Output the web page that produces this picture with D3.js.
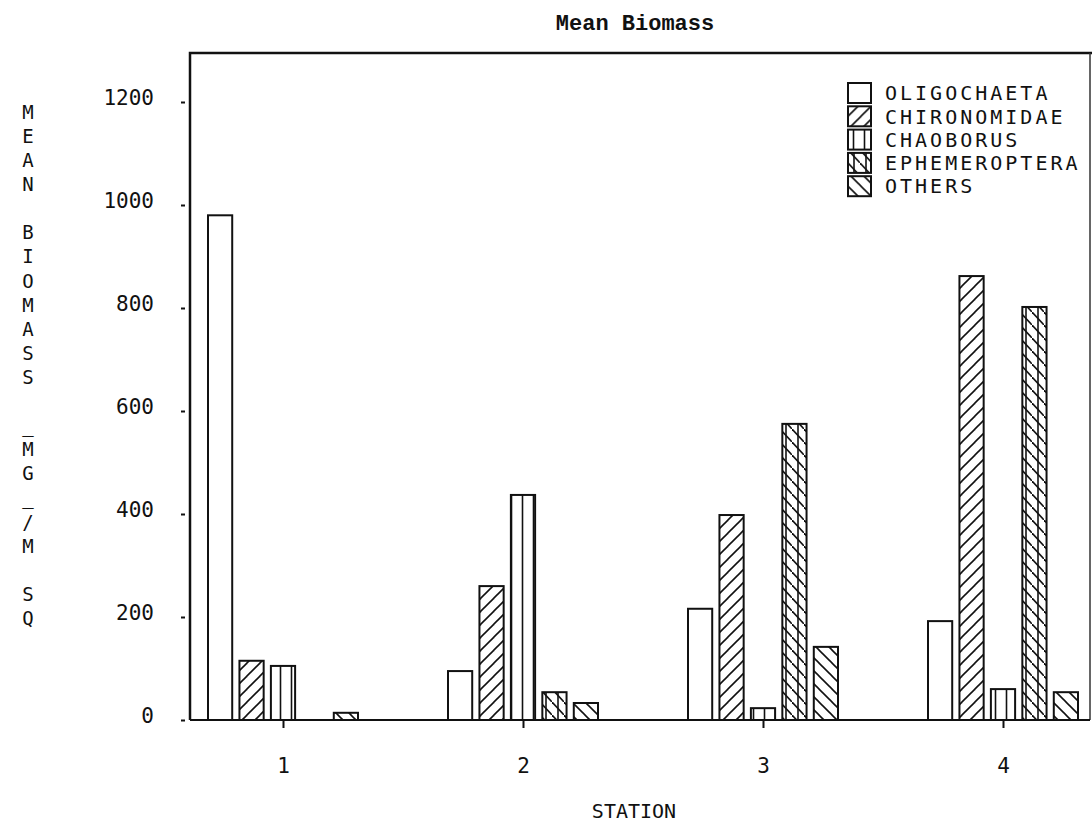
<!DOCTYPE html>
<html>
<head>
<meta charset="utf-8">
<script src="https://cdn.jsdelivr.net/npm/d3@7"></script>
<style>
  body { margin: 0; background: #fff; }
  svg { display: block; background: #fff; }
  .mono { font-family: "DejaVu Sans Mono", monospace; fill: #111; }
</style>
</head>
<body>
<svg width="1092" height="824"></svg>
<script>
var stations = [1, 2, 3, 4];
var taxa = ['OLIGOCHAETA', 'CHIRONOMIDAE', 'CHAOBORUS', 'EPHEMEROPTERA', 'OTHERS'];
var oligochaeta = [980, 95, 216, 192];
var chironomidae = [115, 260, 398, 862];
var chaoborus = [105, 437, 23, 60];
var ephemeroptera = [0, 54, 575, 802];
var others = [14, 33, 142, 54];
var yTicks = [0, 200, 400, 600, 800, 1000, 1200];
var yLabel = 'MEAN BIOMASS _MG_/M SQ';

var series = [oligochaeta, chironomidae, chaoborus, ephemeroptera, others];
var patternIds = ['p-none', 'p-slash', 'p-vert', 'p-vertback', 'p-back'];

var svg = d3.select('svg');
var plotLeft = 190, plotRight = 1090, plotTop = 53, plotBottom = 720;

var y = d3.scaleLinear().domain([0, 1200]).range([plotBottom, 102]);
var x = d3.scalePoint().domain(stations).range([283, 1003]);
var inner = d3.scaleBand().domain(d3.range(taxa.length)).range([-75, 75]).paddingInner(0.23);

// hatch patterns
var defs = svg.append('defs');
function pattern(id, w, h, paths) {
  var p = defs.append('pattern').attr('id', id)
    .attr('patternUnits', 'userSpaceOnUse')
    .attr('width', w).attr('height', h);
  p.append('rect').attr('width', w).attr('height', h).attr('fill', '#fff');
  paths.forEach(function(d) {
    p.append('path').attr('d', d).attr('stroke', '#111').attr('stroke-width', 1.6).attr('fill', 'none');
  });
}
pattern('p-none', 10, 10, []);
pattern('p-slash', 13, 13, ['M-1,14 L14,-1', 'M-7,7 L7,-7', 'M6,20 L20,6']);
pattern('p-vert', 11, 11, ['M5.5,0 L5.5,11']);
pattern('p-vertback', 12, 13, ['M6,0 L6,13', 'M0,0 L12,13']);
pattern('p-back', 13, 13, ['M-1,-1 L14,14', 'M-7,6 L7,20', 'M6,-7 L20,7']);

// title
svg.append('text')
  .attr('x', 635).attr('y', 30)
  .attr('text-anchor', 'middle')
  .style('font-family', '"Liberation Mono", monospace')
  .style('font-weight', 'bold')
  .style('font-size', '22px')
  .style('fill', '#111')
  .text('Mean Biomass');

// bars
stations.forEach(function(s, i) {
  svg.append('g')
    .selectAll('rect')
    .data(series.map(function(arr, k) { return { k: k, v: arr[i] }; }))
    .enter()
    .append('rect')
    .attr('x', function(d) { return x(s) + inner(d.k); })
    .attr('y', function(d) { return y(d.v); })
    .attr('width', inner.bandwidth())
    .attr('height', function(d) { return plotBottom - y(d.v); })
    .attr('fill', function(d) { return 'url(#' + patternIds[d.k] + ')'; })
    .attr('stroke', '#111')
    .attr('stroke-width', 2)
    .style('display', function(d) { return d.v > 0 ? null : 'none'; });
});

// frame
svg.append('path')
  .attr('d', 'M' + plotLeft + ',' + plotBottom + ' L' + plotLeft + ',' + plotTop + ' L1092,' + plotTop)
  .attr('fill', 'none').attr('stroke', '#111').attr('stroke-width', 2.5);
svg.append('line')
  .attr('x1', plotRight).attr('x2', plotRight).attr('y1', plotTop).attr('y2', plotBottom)
  .attr('stroke', '#333').attr('stroke-width', 1.5);
svg.append('line')
  .attr('x1', plotLeft).attr('x2', plotRight).attr('y1', plotBottom).attr('y2', plotBottom)
  .attr('stroke', '#111').attr('stroke-width', 2);

// y axis
var yAxis = svg.append('g')
  .attr('transform', 'translate(185,0)')
  .call(d3.axisLeft(y).tickValues(yTicks).tickFormat(d3.format('d')).tickSize(4).tickPadding(27));
yAxis.select('.domain').remove();
yAxis.selectAll('line').attr('stroke', '#111').attr('stroke-width', 2);
yAxis.selectAll('text')
  .attr('class', 'mono')
  .attr('dy', '0.1em')
  .style('font-size', '21px');

// x axis
var xAxis = svg.append('g')
  .attr('transform', 'translate(0,' + plotBottom + ')')
  .call(d3.axisBottom(x).tickSize(8).tickPadding(30));
xAxis.select('.domain').remove();
xAxis.selectAll('line').attr('stroke', '#111').attr('stroke-width', 2);
xAxis.selectAll('text')
  .attr('class', 'mono')
  .style('font-size', '21px');

svg.append('text')
  .attr('class', 'mono')
  .attr('x', 634).attr('y', 818)
  .attr('text-anchor', 'middle')
  .style('font-size', '20px')
  .text('STATION');

// y label, stacked letters
svg.append('g')
  .selectAll('text')
  .data(yLabel.split(''))
  .enter()
  .append('text')
  .attr('class', 'mono')
  .attr('x', 28)
  .attr('y', function(d, i) { return 112 + i * 24.1; })
  .attr('dy', '0.36em')
  .attr('text-anchor', 'middle')
  .style('font-size', '19px')
  .text(function(d) { return d; });

// legend
var legend = svg.append('g')
  .selectAll('g')
  .data(taxa)
  .enter()
  .append('g')
  .attr('transform', function(d, i) { return 'translate(848,' + (93 + i * 23.3) + ')'; });
legend.append('rect')
  .attr('x', 0).attr('y', -10)
  .attr('width', 23).attr('height', 20)
  .attr('fill', function(d, i) { return 'url(#' + patternIds[i] + ')'; })
  .attr('stroke', '#111').attr('stroke-width', 2);
legend.append('text')
  .attr('class', 'mono')
  .attr('x', 37).attr('dy', '0.36em')
  .style('font-size', '20px')
  .style('letter-spacing', '3px')
  .text(function(d) { return d; });
</script>
</body>
</html>
